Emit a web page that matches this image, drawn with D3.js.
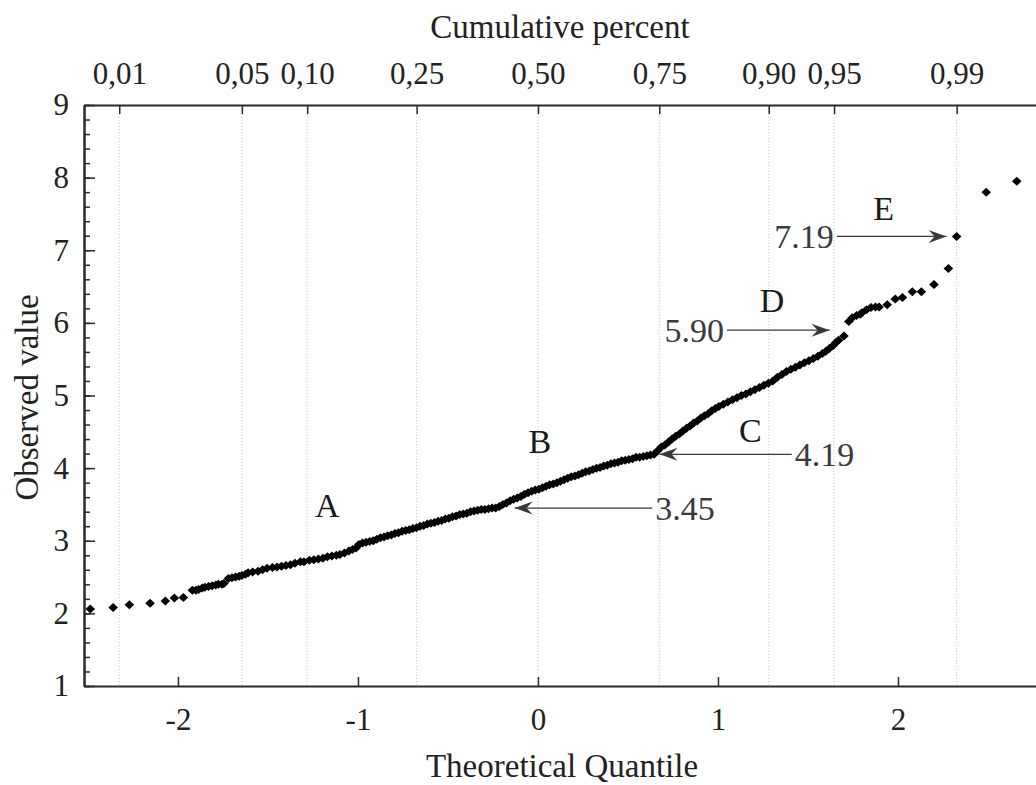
<!DOCTYPE html>
<html>
<head>
<meta charset="utf-8">
<script src="https://cdn.jsdelivr.net/npm/d3@7"></script>
<style>
  html, body { margin: 0; padding: 0; background: #fff; }
  svg { display: block; }
</style>
</head>
<body>
<svg id="chart" width="1036" height="785"></svg>
<script>
// Theoretical normal quantile of each observation (sorted order)
const quantile = [
  -2.487,-2.36,-2.27,-2.155,-2.07,-2.02,-1.97,-1.92,-1.9,-1.885,-1.865,-1.85,-1.83,-1.81,-1.79,-1.775,-1.755,-1.745,
  -1.72,-1.70,-1.68,-1.66,-1.645,-1.625,-1.61,-1.585,-1.555,-1.53,-1.505,-1.475,-1.45,-1.425,-1.40,
  -1.375,-1.35,-1.32,-1.30,-1.27,-1.245,-1.22,-1.195,-1.17,-1.145,-1.12,-1.10,-1.075,-1.05,-1.03,-1.01,
  -0.995,-0.975,-0.955,-0.935,-0.915,-0.895,-0.875,-0.855,-0.835,-0.815,-0.795,-0.775,-0.755,-0.735,-0.715,
  -0.695,-0.675,-0.655,-0.635,-0.615,-0.595,-0.575,-0.555,-0.535,-0.515,-0.495,-0.475,-0.455,-0.435,-0.415,
  -0.395,-0.375,-0.355,-0.335,-0.315,-0.295,-0.275,-0.255,-0.235,-0.215,-0.195,-0.175,-0.155,-0.135,-0.115,
  -0.095,-0.075,-0.055,-0.035,-0.015,0.005,0.025,0.045,0.065,0.085,0.105,0.125,0.145,0.165,0.185,0.205,
  0.225,0.245,0.265,0.285,0.305,0.325,0.345,0.365,0.385,0.405,0.425,0.445,0.465,0.485,0.505,0.525,0.545,
  0.565,0.585,0.605,0.625,0.645,0.665,0.685,0.705,0.725,0.745,0.765,0.785,0.805,0.825,0.845,0.865,0.885,
  0.905,0.925,0.945,0.965,0.985,1.005,1.03,1.055,1.08,1.105,1.13,1.155,1.18,1.205,1.23,1.255,1.28,1.305,
  1.33,1.355,1.38,1.405,1.43,1.455,1.48,1.505,1.53,1.555,1.58,1.60,1.62,1.64,1.655,1.67,1.70,
  1.727,1.746,1.77,1.79,1.80,1.825,1.85,1.875,1.895,1.94,1.985,2.025,2.08,2.13,2.20,2.28,2.326,2.49,2.66
];

// Observed values, sorted ascending
const observed = [
  2.06,2.08,2.12,2.14,2.17,2.21,2.22,2.32,2.32,2.33,2.35,2.36,2.37,2.38,2.39,2.40,2.40,2.41,
  2.48,2.49,2.50,2.51,2.52,2.54,2.56,2.57,2.58,2.60,2.62,2.63,2.64,2.65,2.66,
  2.67,2.69,2.71,2.71,2.73,2.74,2.75,2.76,2.78,2.79,2.80,2.81,2.83,2.86,2.88,2.90,
  2.95,2.97,2.98,2.99,3.00,3.02,3.04,3.05,3.07,3.08,3.10,3.11,3.13,3.14,3.15,
  3.17,3.18,3.20,3.21,3.23,3.24,3.25,3.27,3.28,3.30,3.31,3.33,3.34,3.36,3.37,
  3.38,3.40,3.41,3.42,3.43,3.43,3.44,3.45,3.45,3.47,3.50,3.52,3.55,3.57,3.59,
  3.61,3.64,3.66,3.68,3.70,3.71,3.73,3.75,3.77,3.78,3.80,3.82,3.84,3.86,3.88,3.89,
  3.91,3.93,3.95,3.96,3.98,4.00,4.01,4.03,4.04,4.06,4.07,4.08,4.10,4.11,4.12,4.13,4.15,
  4.15,4.16,4.17,4.18,4.19,4.24,4.29,4.32,4.36,4.40,4.44,4.47,4.51,4.55,4.58,4.62,4.65,
  4.69,4.72,4.75,4.79,4.82,4.85,4.88,4.91,4.94,4.97,5.00,5.02,5.05,5.08,5.11,5.14,5.17,5.20,
  5.25,5.29,5.33,5.36,5.39,5.42,5.45,5.48,5.51,5.54,5.58,5.61,5.65,5.69,5.73,5.76,5.82,
  6.02,6.07,6.10,6.12,6.14,6.18,6.21,6.22,6.22,6.25,6.33,6.35,6.43,6.43,6.53,6.75,7.19,7.80,7.95
];

// Axis ticks
const quantileTicks = [-2, -1, 0, 1, 2];
const valueTicks = [1, 2, 3, 4, 5, 6, 7, 8, 9];
const cumulativeLabels = ["0,01", "0,05", "0,10", "0,25", "0,50", "0,75", "0,90", "0,95", "0,99"];
const cumulativeZ = [-2.326, -1.645, -1.282, -0.674, 0, 0.674, 1.282, 1.645, 2.326];

// Segment letters (text centre in data units)
const segmentNames = ["A", "B", "C", "D", "E"];
const segmentQ = [-1.17, 0.01, 1.18, 1.30, 1.92];
const segmentV = [3.49, 4.36, 4.52, 6.31, 7.58];

// Breakpoint callouts: value, arrow tip and tail (in quantile units), label side
const breakValues = [3.45, 4.19, 5.90, 7.19];
const breakTipQ = [-0.13, 0.675, 1.62, 2.27];
const breakTailQ = [0.635, 1.41, 1.05, 1.66];
const breakLabelSide = ["right", "right", "left", "left"];

const serif = '"Liberation Serif", "LiberationSerif", Tinos, "DejaVu Serif", "Times New Roman", Times, serif';

const svg = d3.select("#chart").attr("font-family", serif);
const plotLeft = 84, plotTop = 105, plotBottom = 686, plotRight = 1040;

const x = d3.scaleLinear().domain([-2.522, 2.789]).range([plotLeft, plotRight]);
const y = d3.scaleLinear().domain([1, 9]).range([plotBottom, plotTop]);

// Vertical dotted gridlines at cumulative-percent positions
svg.append("g").selectAll("line").data(cumulativeZ).join("line")
  .attr("x1", d => x(d)).attr("x2", d => x(d))
  .attr("y1", plotTop).attr("y2", plotBottom)
  .attr("stroke", "#c4c4c4").attr("stroke-width", 1)
  .attr("stroke-dasharray", "1,2");

const axisColor = "#2a2a2a";
function styleAxis(g, fontSize) {
  g.attr("font-family", serif).attr("font-size", fontSize);
  g.select(".domain").attr("stroke", axisColor).attr("stroke-width", 2);
  g.selectAll(".tick line").attr("stroke", axisColor).attr("stroke-width", 1.5);
  g.selectAll(".tick text").attr("font-family", serif)
    .attr("font-size", fontSize).attr("fill", "#222");
}

// Bottom axis
const gx = svg.append("g").attr("transform", `translate(0,${plotBottom})`)
  .call(d3.axisBottom(x).tickValues(quantileTicks).tickFormat(d3.format("d"))
    .tickSizeInner(-9).tickSizeOuter(0).tickPadding(22));
styleAxis(gx, 31);
gx.selectAll(".tick text").text(d => d3.format("d")(d).replace("\u2212", "-"));

// Top axis (cumulative percent)
const gt = svg.append("g").attr("transform", `translate(0,${plotTop})`)
  .call(d3.axisTop(x).tickValues(cumulativeZ).tickFormat((d, i) => cumulativeLabels[i])
    .tickSizeInner(-9).tickSizeOuter(0).tickPadding(21));
styleAxis(gt, 31);

// Left axis with minor ticks
const gyMinor = svg.append("g").attr("transform", `translate(${plotLeft},0)`)
  .call(d3.axisLeft(y).tickValues(d3.range(1, 9.001, 0.2)).tickFormat("")
    .tickSizeInner(-6).tickSizeOuter(0));
styleAxis(gyMinor, 31);
const gy = svg.append("g").attr("transform", `translate(${plotLeft},0)`)
  .call(d3.axisLeft(y).tickValues(valueTicks).tickFormat(d3.format("d"))
    .tickSizeInner(-11).tickSizeOuter(0).tickPadding(15));
styleAxis(gy, 31);

// Axis titles
svg.append("text").attr("x", 560).attr("y", 27).attr("text-anchor", "middle")
  .attr("dominant-baseline", "central").attr("font-size", 33).attr("fill", "#222")
  .text("Cumulative percent");
svg.append("text").attr("x", 562).attr("y", 766).attr("text-anchor", "middle")
  .attr("dominant-baseline", "central").attr("font-size", 33).attr("fill", "#222")
  .text("Theoretical Quantile");
svg.append("text").attr("transform", `translate(27,${(plotTop + plotBottom) / 2 + 2}) rotate(-90)`)
  .attr("text-anchor", "middle").attr("dominant-baseline", "central")
  .attr("font-size", 33).attr("fill", "#222").text("Observed value");

// Data points: small filled diamonds
const points = quantile.map((q, i) => ({ q, v: observed[i] }));
const diamond = "M0,-4.5L4.8,0L0,4.5L-4.8,0Z";
svg.append("g").selectAll("path").data(points).join("path")
  .attr("d", diamond)
  .attr("transform", d => `translate(${x(d.q)},${y(d.v)})`)
  .attr("fill", "#000");

// Segment letters
svg.append("g").selectAll("text").data(segmentNames).join("text")
  .attr("x", (d, i) => x(segmentQ[i])).attr("y", (d, i) => y(segmentV[i]))
  .attr("text-anchor", "middle").attr("dominant-baseline", "central")
  .attr("font-size", 34).attr("fill", "#1a1a1a").text(d => d);

// Breakpoint arrows with values
const arrowColor = "#3a3a3a";
const head = "M0,0L-18,-6.5L-12,0L-18,6.5Z";
breakValues.forEach((v, i) => {
  const yy = y(v);
  const xt = x(breakTipQ[i]);
  const xl = x(breakTailQ[i]);
  const g = svg.append("g");
  g.append("line").attr("x1", xl).attr("x2", xt).attr("y1", yy).attr("y2", yy)
    .attr("stroke", arrowColor).attr("stroke-width", 1.3);
  const dir = xt < xl ? 180 : 0;
  g.append("path").attr("d", head).attr("fill", arrowColor)
    .attr("transform", `translate(${xt},${yy}) rotate(${dir})`);
  const side = breakLabelSide[i];
  g.append("text")
    .attr("x", side === "right" ? xl + 3 : xl - 3).attr("y", yy)
    .attr("text-anchor", side === "right" ? "start" : "end")
    .attr("dominant-baseline", "central")
    .attr("font-size", 34).attr("fill", "#3a3a3a")
    .text(d3.format(".2f")(v));
});
</script>
</body>
</html>
